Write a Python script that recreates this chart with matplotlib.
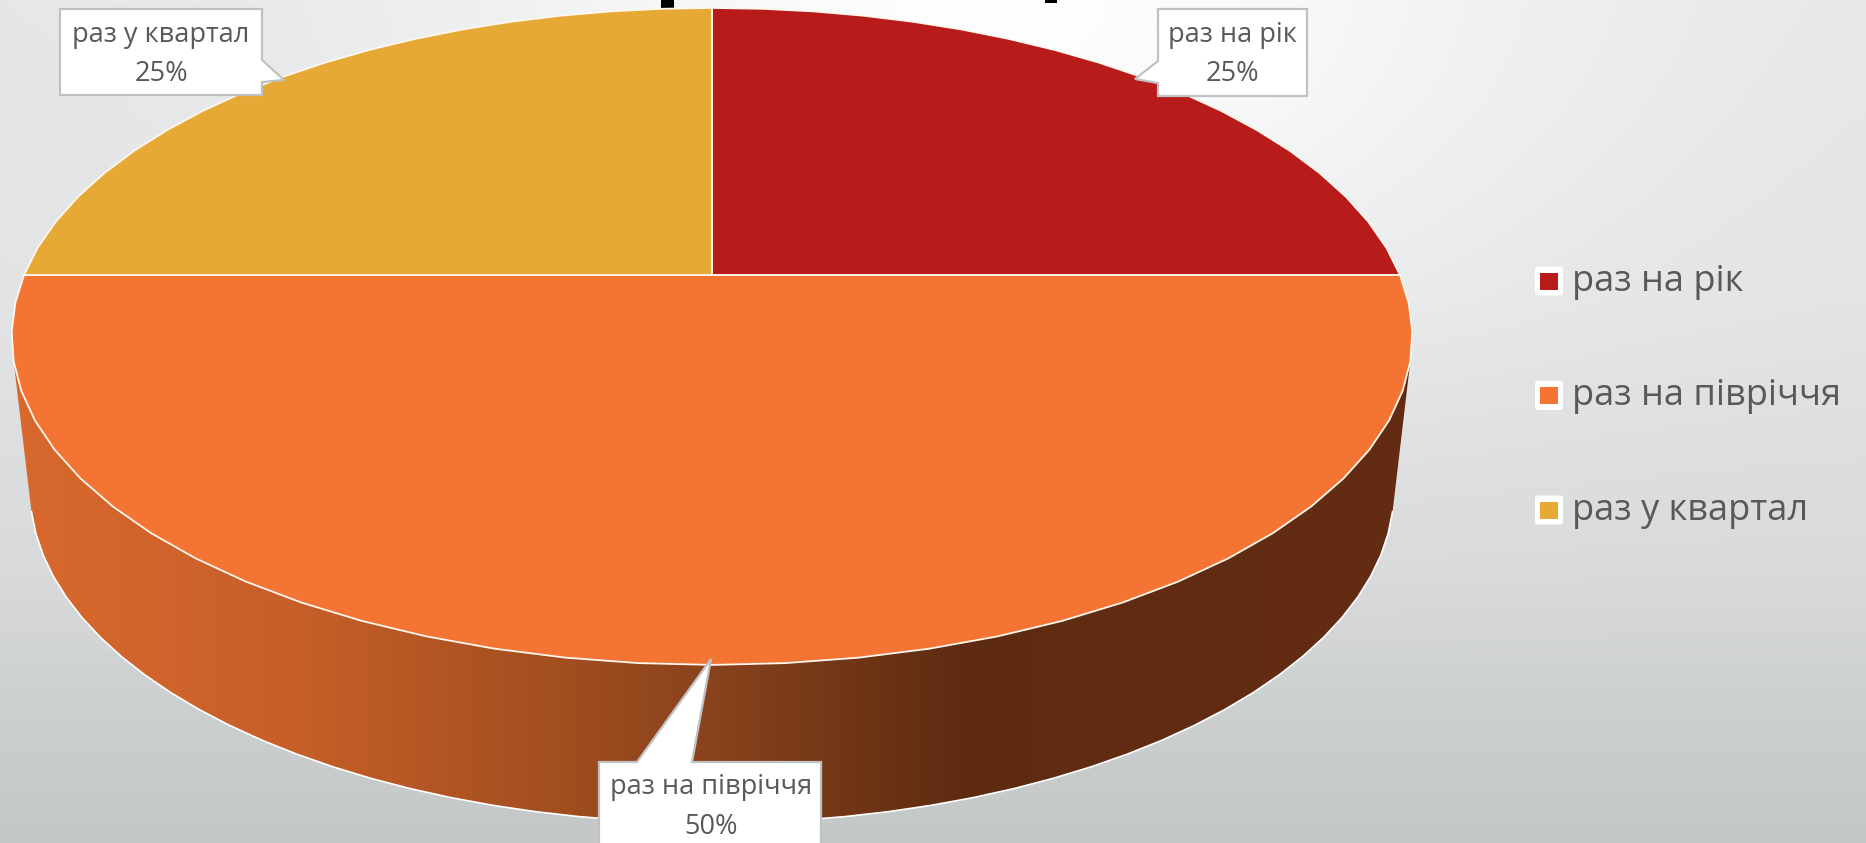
#!/usr/bin/env python
# coding: utf-8

import numpy as np
import matplotlib
matplotlib.use('Agg')
import matplotlib.pyplot as plt
from matplotlib.colors import LinearSegmentedColormap
from matplotlib.patches import FancyBboxPatch, Polygon, Rectangle

categories = ['раз на рік', 'раз на півріччя', 'раз у квартал']
values = [25, 50, 25]
percent_labels = ['25%', '50%', '25%']
colors = ['#b71c1a', '#f47433', '#e6a935']

WIDTH, HEIGHT = 1866, 843
TEXT = '#595959'
FONT = 'Open Sans'

# pie geometry in pixels: apex of the slices and perspective of the top face
APEX = (712, 275)
RX, UP, PERSP = 688, 317, 0.187
# lower rim of the side wall
RIM = (712, 490, 682, 333)


def project(theta):
    sin, cos = np.sin(theta), np.cos(theta)
    div = 1 + PERSP * cos
    return APEX[0] + RX * sin / div, APEX[1] - UP * cos / div


def background():
    yy, xx = np.mgrid[0:HEIGHT, 0:WIDTH]
    glow = 24 * np.exp(-((xx - 1000) / 560) ** 2 - ((yy - 30) / 330) ** 2)
    stops = [0, 300, 560, 700, 843]
    shades = [
        np.interp(yy, stops, [229, 225, 217, 205, 195]) + glow,
        np.interp(yy, stops, [231, 227, 218, 208, 199]) + glow,
        np.interp(yy, stops, [231, 228, 220, 209, 200]) + glow,
    ]
    return np.clip(np.dstack(shades) / 255, 0, 1)


def draw_side(axis):
    theta = np.linspace(0, 2 * np.pi, 97)
    top_x, top_y = project(theta)
    keep = top_y >= 350
    t = np.linspace(0, 2 * np.pi, 97)
    rim_x = RIM[0] + RIM[2] * np.sin(t)
    rim_y = RIM[1] - RIM[3] * np.cos(t)
    rim_keep = rim_y >= 505
    # rim runs right to left on the same direction, so it gets reversed
    xs = np.r_[top_x[keep], rim_x[rim_keep][::-1]]
    ys = np.r_[top_y[keep], rim_y[rim_keep][::-1]]
    wall = Polygon(np.c_[xs, ys], closed=True, fc='none', ec='none')
    axis.add_patch(wall)

    cmap = LinearSegmentedColormap.from_list('wall', [
        (0.0, '#d9692e'), (0.2, '#c75f29'), (0.38, '#a44f20'),
        (0.52, '#84401b'), (0.68, '#5e2b11'), (1.0, '#642c13'),
    ])
    grad = np.linspace(0, 1, 512)[None, :]
    img = axis.imshow(grad, cmap=cmap, extent=(10, 1415, HEIGHT, 300),
                      aspect='auto', zorder=2)
    img.set_clip_path(wall)
    axis.plot(rim_x[rim_keep], rim_y[rim_keep], color='white', lw=1.2, zorder=3)


def draw_slices(axis):
    total = sum(values)
    start = 0.0
    for value, color in zip(values, colors):
        stop = start + value / total * 2 * np.pi
        theta = np.linspace(start, stop, int(value * 0.72) + 1)
        x, y = project(theta)
        axis.add_patch(Polygon(np.c_[np.r_[APEX[0], x], np.r_[APEX[1], y]],
                               closed=True, fc=color, ec='#fff6ee', lw=1.3,
                               zorder=4, joinstyle='round'))
        start = stop


def callout(axis, points, lines):
    axis.add_patch(Polygon(points, closed=True, fc='white', ec='#bfc1c2',
                           lw=1.6, zorder=6, clip_on=True))
    for cx, cy, text, size in lines:
        axis.text(cx, cy, text, ha='center', va='center', color=TEXT,
                  fontsize=size, family=FONT, zorder=7)


def main():
    fig = plt.figure(figsize=(WIDTH / 100, HEIGHT / 100), dpi=100)
    axis = fig.add_axes([0, 0, 1, 1])
    axis.imshow(background(), extent=(0, WIDTH, HEIGHT, 0), aspect='auto',
                zorder=0)
    axis.set_xlim(0, WIDTH)
    axis.set_ylim(HEIGHT, 0)
    axis.axis('off')

    # bottoms of the cropped title letters
    axis.add_patch(Rectangle((661, 0), 13, 8, fc='black', ec='none', zorder=1))
    axis.add_patch(Rectangle((1045, 0), 12, 3, fc='black', ec='none', zorder=1))

    draw_side(axis)
    draw_slices(axis)

    size = 19.5
    callout(axis, [(1158, 9), (1307, 9), (1307, 96), (1158, 96), (1158, 83),
                   (1135, 79), (1158, 61)],
            [(1232, 35, categories[0], size), (1232, 74, percent_labels[0], size)])
    callout(axis, [(599, 762), (637, 762), (711, 659), (692, 762), (821, 762),
                   (821, 860), (599, 860)],
            [(711, 787, categories[1], size), (711, 827, percent_labels[1], size)])
    callout(axis, [(60, 9), (262, 9), (262, 60), (284, 80), (262, 82), (262, 95),
                   (60, 95)],
            [(161, 35, categories[2], size), (161, 74, percent_labels[2], size)])

    for row, (name, color) in enumerate(zip(categories, colors)):
        cy = 281 + row * 114.5
        axis.add_patch(FancyBboxPatch((1537, cy - 12.5), 24, 25,
                                      boxstyle='round,pad=2,rounding_size=3',
                                      fc='white', ec='none', zorder=5))
        axis.add_patch(Rectangle((1540, cy - 8.5), 18, 17, fc=color, ec='none',
                                 zorder=6))
        axis.text(1572, cy + 1, name, ha='left', va='center', color=TEXT,
                  fontsize=26, family=FONT, zorder=6)

    fig.savefig('out.png', dpi=100)


if __name__ == '__main__':
    main()
